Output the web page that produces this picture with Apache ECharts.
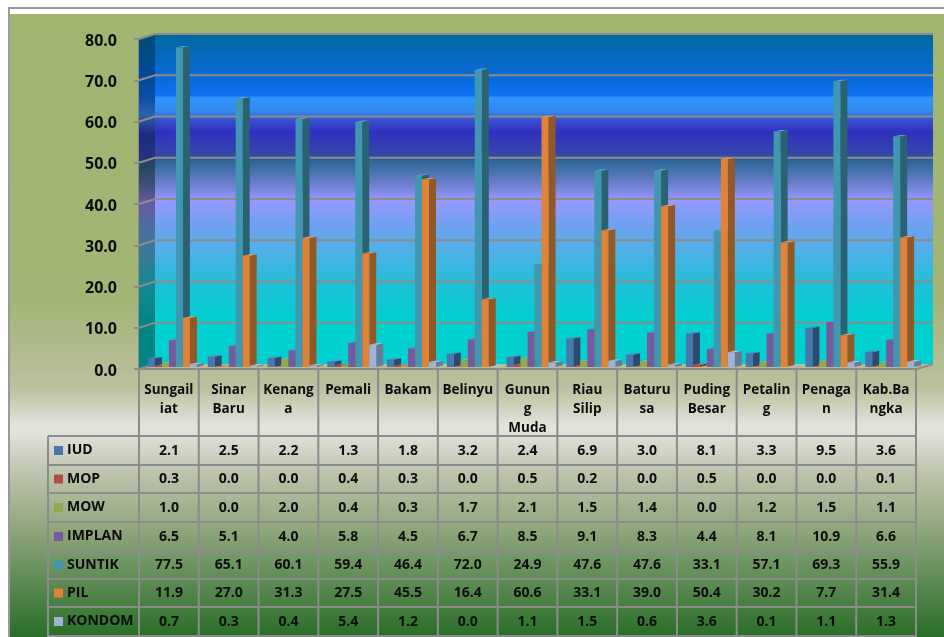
<!DOCTYPE html>
<html>
<head>
<meta charset="utf-8">
<style>
  html, body { margin: 0; padding: 0; background: #fff; }
  #chart { width: 944px; height: 637px; }
</style>
<script src="https://cdn.jsdelivr.net/npm/echarts@6/dist/echarts.min.js"></script>
</head>
<body>
<div id="chart"></div>
<script>
const categories = ['Sungail\niat', 'Sinar\nBaru', 'Kenang\na', 'Pemali', 'Bakam', 'Belinyu', 'Gunun\ng\nMuda', 'Riau\nSilip', 'Baturu\nsa', 'Puding\nBesar', 'Petalin\ng', 'Penaga\nn', 'Kab.Ba\nngka']
const yTicks = [0, 10, 20, 30, 40, 50, 60, 70, 80]

const seriesNames = ['IUD', 'MOP', 'MOW', 'IMPLAN', 'SUNTIK', 'PIL', 'KONDOM']
const iud = [2.1, 2.5, 2.2, 1.3, 1.8, 3.2, 2.4, 6.9, 3.0, 8.1, 3.3, 9.5, 3.6]
const mop = [0.3, 0.0, 0.0, 0.4, 0.3, 0.0, 0.5, 0.2, 0.0, 0.5, 0.0, 0.0, 0.1]
const mow = [1.0, 0.0, 2.0, 0.4, 0.3, 1.7, 2.1, 1.5, 1.4, 0.0, 1.2, 1.5, 1.1]
const implan = [6.5, 5.1, 4.0, 5.8, 4.5, 6.7, 8.5, 9.1, 8.3, 4.4, 8.1, 10.9, 6.6]
const suntik = [77.5, 65.1, 60.1, 59.4, 46.4, 72.0, 24.9, 47.6, 47.6, 33.1, 57.1, 69.3, 55.9]
const pil = [11.9, 27.0, 31.3, 27.5, 45.5, 16.4, 60.6, 33.1, 39.0, 50.4, 30.2, 7.7, 31.4]
const kondom = [0.7, 0.3, 0.4, 5.4, 1.2, 0.0, 1.1, 1.5, 0.6, 3.6, 0.1, 1.1, 1.3]
const seriesValues = [iud, mop, mow, implan, suntik, pil, kondom]

// front, side, top
const barColors = [
  ['#4a76ab', '#2d4a6e', '#5d86b8'],
  ['#b24a48', '#7a302e', '#c06060'],
  ['#90a84e', '#5f7232', '#a2b866'],
  ['#775a9e', '#4e3a6a', '#8a70ae'],
  ['#4196b0', '#2a6271', '#58a8c0'],
  ['#e08238', '#8f5a28', '#ea9a58'],
  ['#9fb2da', '#6a7a96', '#b4c4e4']
]

const gridLine = '#8c8c8c'
const font = '"Open Sans", sans-serif'

const left = 139
const top_ = 39
const bottom = 369
const right = 916
const tableLeft = 48
const rowLines = [436, 465, 493, 522, 551, 579, 607, 636]

// 3d offsets of the walls and of the bars
const wallDx = 16
const wallDy = -5
const barDx = 7
const barDy = -1.4

const backStops = [
  [0, '#0068a0'], [0.124, '#0a6ad8'], [0.185, '#0d70f0'], [0.194, '#2f95ff'], [0.236, '#3088ee'],
  [0.26, '#3a50d0'], [0.297, '#3030c0'], [0.367, '#3548a8'], [0.388, '#2f6896'], [0.458, '#6f80d0'],
  [0.503, '#9898ff'], [0.579, '#70a0f0'], [0.655, '#50b0e8'], [0.76, '#20c0d8'], [0.867, '#00d0d0'], [1, '#00d0d0']
]
const sideStops = [
  [0, '#004c74'], [0.13, '#004a98'], [0.19, '#0a50a8'], [0.24, '#2a62a8'], [0.3, '#1e2a80'],
  [0.37, '#25347a'], [0.39, '#224660'], [0.46, '#46507f'], [0.5, '#665aa0'], [0.58, '#4a70a0'],
  [0.66, '#387a98'], [0.76, '#108a90'], [0.87, '#008484'], [1, '#008484']
]
const pageStops = [
  [0, '#9fb570'], [0.46, '#a2b576'], [0.6, '#bcc09f'], [0.665, '#e5e5e0'], [0.74, '#bcc2ab'],
  [0.82, '#93a880'], [0.91, '#5e8b55'], [1, '#286e26']
]

function linear(stops) {
  return new echarts.graphic.LinearGradient(0, 0, 0, 1, stops.map(s => ({ offset: s[0], color: s[1] })))
}

function renderWalls(params, api) {
  const v = api.value(0)
  const children = []
  const lt = api.coord([0, 80])
  const lb = api.coord([0, 0])
  const x0 = left
  const x1 = right + 1
  const y = api.coord([0, v])[1]
  if (params.dataIndex === 0) {
    children.push({
      type: 'polygon',
      shape: { points: [[x0 + wallDx, lt[1] + wallDy], [x1 + wallDx, lt[1] + wallDy], [x1 + wallDx, lb[1] + wallDy], [x0 + wallDx, lb[1] + wallDy]] },
      style: { fill: linear(backStops) }
    })
    children.push({
      type: 'polygon',
      shape: { points: [[x0, lt[1]], [x0 + wallDx, lt[1] + wallDy], [x0 + wallDx, lb[1] + wallDy], [x0, lb[1]]] },
      style: { fill: linear(sideStops) }
    })
    // floor edge
    children.push({
      type: 'polyline',
      shape: { points: [[x0, lb[1]], [x1, lb[1]], [x1 + wallDx, lb[1] + wallDy]] },
      style: { stroke: gridLine, lineWidth: 2, fill: 'none' }
    })
  }
  const line = v === 0 ? [[x0, y], [x0 + wallDx, y + wallDy]] : [[x0, y], [x0 + wallDx, y + wallDy], [x1 + wallDx, y + wallDy]]
  children.push({
    type: 'polyline',
    shape: { points: line },
    style: { stroke: gridLine, lineWidth: 2, fill: 'none' }
  })
  return { type: 'group', children }
}

function renderBar(index) {
  return function (params, api) {
    const cat = api.value(0)
    const val = api.value(1)
    const base = api.coord([cat, 0])
    const head = api.coord([cat, val])
    const band = api.size([1, 0])[0]
    const w = band * 0.117
    const x = base[0] - band / 2 + band * 0.15 + index * w
    const y0 = base[1] - 2
    const y1 = head[1] - 2
    const colors = barColors[index]
    return {
      type: 'group',
      children: [
        {
          type: 'polygon',
          shape: { points: [[x + w, y0], [x + w + barDx, y0 + barDy], [x + w + barDx, y1 + barDy], [x + w, y1]] },
          style: { fill: colors[1] }
        },
        {
          type: 'polygon',
          shape: { points: [[x, y1], [x + barDx, y1 + barDy], [x + w + barDx, y1 + barDy], [x + w, y1]] },
          style: { fill: colors[2] }
        },
        {
          type: 'rect',
          shape: { x: x, y: y1, width: w, height: y0 - y1 },
          style: { fill: colors[0] }
        }
      ]
    }
  }
}

function tableGraphics() {
  const items = []
  const colWidth = (right - left) / categories.length
  const lineStyle = { stroke: gridLine, lineWidth: 2 }
  // page frame and background
  items.push({ type: 'rect', z: -5, shape: { x: 8, y: 7, width: 936, height: 630 }, style: { fill: '#9a9a9a' } })
  items.push({ type: 'rect', z: -4, shape: { x: 10, y: 9, width: 934, height: 628 }, style: { fill: '#fff' } })
  items.push({ type: 'rect', z: -3, shape: { x: 10, y: 14, width: 934, height: 623 }, style: { fill: linear(pageStops) } })

  rowLines.forEach(y => {
    items.push({ type: 'line', z: 10, shape: { x1: tableLeft, y1: y, x2: right, y2: y }, style: lineStyle })
  })
  items.push({ type: 'line', z: 10, shape: { x1: tableLeft, y1: rowLines[0], x2: tableLeft, y2: 637 }, style: lineStyle })
  for (let c = 0; c <= categories.length; c++) {
    const x = left + c * colWidth
    items.push({ type: 'line', z: 10, shape: { x1: x, y1: bottom, x2: x, y2: 637 }, style: lineStyle })
  }
  seriesNames.forEach((name, r) => {
    const cy = (rowLines[r] + rowLines[r + 1]) / 2
    items.push({ type: 'rect', z: 11, shape: { x: 54, y: cy - 4.5, width: 9, height: 9 }, style: { fill: barColors[r][0] } })
    items.push({
      type: 'text', z: 11,
      style: { text: name, x: 67, y: cy, fill: '#0d0d0d', font: 'bold 14px ' + font, textAlign: 'left', textVerticalAlign: 'middle' }
    })
    seriesValues[r].forEach((v, c) => {
      items.push({
        type: 'text', z: 11,
        style: { text: v.toFixed(1), x: left + (c + 0.5) * colWidth, y: cy + 0.5, fill: '#0d0d0d', font: 'bold 14px ' + font, textAlign: 'center', textVerticalAlign: 'middle' }
      })
    })
  })
  return items
}

const chart = echarts.init(document.getElementById('chart'), null, { renderer: 'canvas' })

const barSeries = seriesNames.map((name, i) => ({
  name: name,
  type: 'custom',
  clip: false,
  z: 3,
  renderItem: renderBar(i),
  encode: { x: 0, y: 1 },
  data: seriesValues[i].map((v, c) => [c, v])
}))

chart.setOption({
  animation: false,
  backgroundColor: '#fff',
  grid: { left: left, right: 944 - right, top: top_, bottom: 637 - bottom, containLabel: false },
  xAxis: {
    type: 'category',
    data: categories,
    axisLine: { show: false },
    axisTick: { show: false },
    axisLabel: {
      interval: 0,
      margin: 12,
      color: '#0d0d0d',
      fontFamily: font,
      fontWeight: 'bold',
      fontSize: 13.5,
      lineHeight: 19,
      verticalAlign: 'top'
    }
  },
  yAxis: {
    type: 'value',
    min: 0,
    max: 80,
    interval: 10,
    splitLine: { show: false },
    axisLine: { show: true, lineStyle: { color: gridLine, width: 2 } },
    axisTick: { show: true, length: 5, lineStyle: { color: gridLine, width: 2 } },
    axisLabel: {
      margin: 22,
      color: '#0d0d0d',
      fontFamily: font,
      fontWeight: 'bold',
      fontSize: 16,
      verticalAlign: 'top',
      lineHeight: 4,
      formatter: v => v.toFixed(1)
    }
  },
  graphic: { elements: tableGraphics() },
  series: [{
    type: 'custom',
    clip: false,
    z: 1,
    silent: true,
    renderItem: renderWalls,
    encode: { y: 0 },
    data: yTicks.map(v => [v])
  }].concat(barSeries)
})
</script>
</body>
</html>
